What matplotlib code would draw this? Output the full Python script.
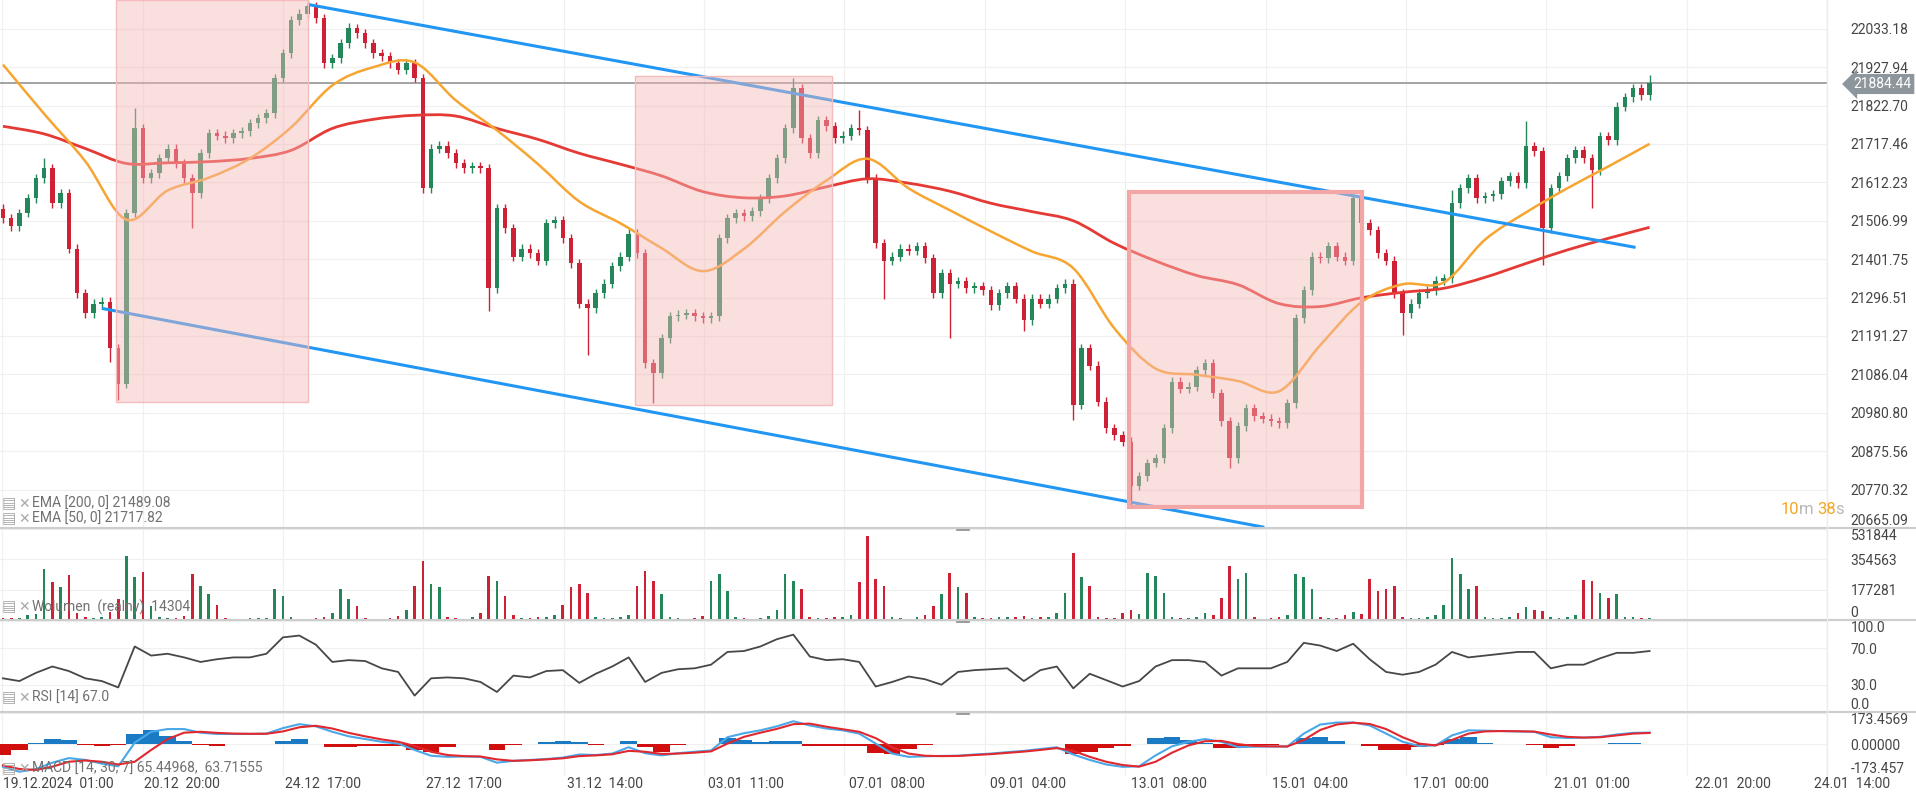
import matplotlib
matplotlib.use("Agg")
import matplotlib.pyplot as plt
from matplotlib.patches import Rectangle, PathPatch
from matplotlib.path import Path
from matplotlib.lines import Line2D
import numpy as np

W, H = 1916, 795
PLOT_W = 1827

# --- data (one candle per ~8 px of the original) ---
first_open = 21540.0
closes = [
    21514, 21492, 21528, 21569, 21623, 21651, 21555, 21582, 21431, 21308,
    21253, 21280, 21285, 21157, 21061, 21528, 21760, 21623, 21637, 21678,
    21705, 21664, 21623, 21582, 21692, 21747, 21740, 21733, 21747, 21752,
    21774, 21788, 21801, 21898, 21966, 22056, 22075, 22095, 22062, 21939,
    21952, 21993, 22035, 22021, 21993, 21966, 21958, 21939, 21920, 21939,
    21898, 21596, 21705, 21713, 21692, 21664, 21651, 21656, 21651, 21322,
    21541, 21486, 21409, 21431, 21418, 21398, 21500, 21508, 21459, 21390,
    21280, 21267, 21308, 21335, 21382, 21409, 21472, 21418, 21116, 21089,
    21185, 21245, 21250, 21253, 21245, 21240, 21245, 21459, 21514, 21528,
    21519, 21533, 21569, 21623, 21678, 21760, 21870, 21733, 21692, 21782,
    21766, 21733, 21740, 21760, 21755, 21623, 21445, 21398, 21409, 21431,
    21425, 21437, 21404, 21308, 21363, 21335, 21341, 21322, 21327, 21316,
    21275, 21308, 21327, 21294, 21234, 21294, 21280, 21294, 21322, 21335,
    21002, 21157, 21110, 21011, 20938, 20919, 20902, 20780, 20807, 20843,
    20856, 20938, 21066, 21047, 21052, 21097, 21116, 21034, 20957, 20856,
    20944, 20993, 20971, 20965, 20957, 20952, 21007, 21240, 21316, 21409,
    21404, 21437, 21409, 21398, 21569, 21500, 21481, 21418, 21398, 21308,
    21253, 21280, 21308, 21316, 21343, 21349, 21555, 21596, 21623, 21569,
    21574, 21580, 21615, 21629, 21610, 21711, 21697, 21486, 21596, 21629,
    21678, 21700, 21678, 21645, 21738, 21727, 21820, 21845, 21870, 21851,
    21884.44,
]
long_highs = {5: 21678, 16: 21815, 33: 21905, 37: 22111, 42: 22050, 96: 21897,
              104: 21810, 176: 21590, 185: 21780, 200: 21906}
long_lows = {13: 21120, 14: 21015, 23: 21486, 59: 21260, 71: 21140, 79: 21007,
             107: 21294, 115: 21185, 124: 21204, 130: 20960, 137: 20719,
             149: 20830, 170: 21193, 187: 21385, 193: 21541}

volume_k = [
    12, 9, 14, 30, 35, 300, 220, 190, 265, 40, 15, 12, 20, 45, 120, 372, 250, 280, 80, 20,
    12, 10, 25, 270, 200, 150, 90, 10, 8, 6, 9, 12, 10, 180, 140, 20, 8, 6, 10, 15,
    40, 180, 120, 80, 12, 8, 6, 10, 25, 60, 200, 343, 210, 190, 20, 10, 8, 15, 40, 260,
    230, 140, 30, 12, 10, 15, 20, 30, 90, 190, 210, 160, 20, 12, 10, 15, 30, 200, 284, 230,
    150, 20, 10, 8, 12, 25, 230, 266, 170, 20, 10, 8, 12, 25, 60, 266, 230, 180, 15, 10,
    12, 15, 20, 30, 220, 490, 240, 200, 20, 10, 8, 15, 30, 80, 150, 272, 195, 160, 15, 10,
    12, 15, 20, 18, 25, 12, 15, 20, 40, 160, 390, 250, 200, 20, 12, 10, 40, 60, 35, 272,
    260, 160, 20, 10, 12, 20, 40, 30, 130, 313, 240, 272, 15, 8, 10, 15, 30, 266, 250, 180,
    20, 12, 10, 30, 45, 35, 237, 170, 180, 200, 20, 10, 12, 20, 30, 90, 360, 270, 180, 200,
    20, 10, 12, 20, 40, 77, 60, 55, 15, 12, 20, 30, 236, 230, 160, 130, 150, 20, 15, 10,
    14.304,
]

# sampled every 5 candles
ema200 = [21766, 21745, 21705, 21664, 21666, 21669, 21678, 21700, 21760, 21785,
          21796, 21794, 21760, 21730, 21692, 21662, 21630, 21587, 21570, 21575,
          21600, 21622, 21610, 21588, 21555, 21532, 21507, 21445, 21397, 21357,
          21332, 21280, 21272, 21296, 21311, 21322, 21352, 21390, 21427, 21459,
          21489.08]
ema50 = [21935, 21800, 21670, 21510, 21590, 21625, 21678, 21763, 21878, 21928,
         21941, 21837, 21755, 21662, 21560, 21500, 21432, 21369, 21430, 21532,
         21617, 21677, 21596, 21536, 21478, 21423, 21377, 21212, 21102, 21085,
         21068, 21040, 21166, 21284, 21333, 21338, 21455, 21530, 21596, 21656,
         21717.82]

# sampled every 2 candles
rsi = [37, 34, 43, 50, 45, 37, 34, 27, 72, 62,
       64, 60, 55, 58, 60, 60, 64, 82, 84, 74,
       55, 57, 56, 48, 44, 18, 37, 38, 37, 33,
       22, 40, 38, 45, 46, 32, 42, 50, 60, 33,
       43, 47, 48, 52, 66, 67, 72, 80, 85, 61,
       57, 58, 55, 28, 33, 39, 36, 30, 44, 46,
       47, 48, 34, 46, 50, 26, 42, 35, 28, 34,
       50, 57, 57, 55, 40, 48, 48, 48, 55, 76,
       73, 67, 75, 58, 44, 41, 44, 52, 66, 60,
       62, 64, 66, 66, 48, 52, 52, 59, 65, 65,
       67.0]
macd_line = [-123, -150, -135, -100, -75, -85, -105, -120, 10, 70,
             85, 85, 65, 58, 58, 58, 60, 90, 112, 100,
             70, 45, 30, 15, 5, -30, -62, -68, -66, -68,
             -100, -90, -85, -80, -72, -55, -58, -50, -15, -48,
             -60, -48, -40, -33, 40, 62, 78, 100, 128, 105,
             88, 78, 60, 5, -50, -68, -65, -63, -62, -55,
             -50, -42, -35, -25, -15, -55, -85, -110, -123, -120,
             -60, -10, 15, 30, 15, -14, -12, -11, -11, 60,
             110, 121, 121, 105, 60, 15, -8, -5, 50, 78,
             76, 74, 72, 70, 40, 36, 38, 42, 55, 64,
             65.44968]
macd_signal = [-115, -135, -140, -122, -95, -88, -95, -110, -95, -30,
               30, 65, 70, 64, 60, 59, 59, 72, 95, 103,
               88, 64, 45, 28, 15, -8, -40, -58, -64, -66,
               -82, -90, -87, -82, -76, -64, -60, -54, -35, -40,
               -52, -50, -45, -38, 5, 42, 65, 86, 112, 115,
               98, 84, 70, 35, -15, -50, -62, -64, -63, -58,
               -53, -46, -39, -30, -20, -35, -68, -95, -113, -122,
               -95, -45, -5, 18, 20, 2, -8, -10, -11, 25,
               80, 110, 120, 113, 85, 40, 5, -5, 25, 60,
               72, 74, 73, 71, 55, 42, 38, 40, 50, 60,
               63.71555]
macd_hist = [-60, -30, 10, 28, 25, -5, -10, -5, 60, 80,
             45, 18, -5, -8, 2, 3, 2, 20, 28, 5,
             -15, -12, -10, -10, -8, -30, -42, -15, 3, 2,
             -33, -5, 5, 15, 22, 12, -5, 5, 22, -15,
             -42, -5, 5, 5, 36, 25, 15, 20, 22, -8,
             -8, -6, -10, -45, -50, -25, -3, 2, 3, 5,
             5, 5, 4, 5, 5, -50, -40, -20, -10, 2,
             35, 40, 25, 10, -20, -18, -3, -2, 2, 35,
             43, 20, 4, -10, -33, -30, -15, -2, 30, 40,
             8, 2, 2, -2, -18, -10, 2, 3, 8, 6,
             2]

price_ticks = ["22033.18", "21927.94", "21822.70", "21717.46", "21612.23",
               "21506.99", "21401.75", "21296.51", "21191.27", "21086.04",
               "20980.80", "20875.56", "20770.32", "20665.09"]
volume_ticks = ["0", "177281", "354563", "531844"]
rsi_ticks = ["0.0", "30.0", "70.0", "100.0"]
macd_ticks = ["-173.457", "0.00000", "173.4569"]
x_labels = ["19.12.2024  01:00", "20.12  20:00", "24.12  17:00", "27.12  17:00",
            "31.12  14:00", "03.01  11:00", "07.01  08:00", "09.01  04:00",
            "13.01  08:00", "15.01  04:00", "17.01  00:00", "21.01  01:00",
            "22.01  20:00", "24.01  14:00"]

# drawn annotations (candle index, price)
channel_upper = ([37.0, 198.3], [22100, 21434])
channel_lower = ([12.0, 153.2], [21267, 20667])
boxes = [(13.7, 37.1, 21010, 22111), (76.8, 100.7, 21001, 21903), (136.8, 165.1, 20722, 21585)]
last_price = 21884.44

GREEN = "#23875a"
RED = "#cf2135"
plt.rcParams["font.family"] = ["Roboto", "DejaVu Sans"]


def px_rect(left, top, width, height):
    return [left / W, 1 - (top + height) / H, width / W, height / H]


def ftext(xp, yp, s, **kw):
    return fig.text(xp / W, 1 - yp / H, s, **kw)


def smooth_line(a, xs, ys, **kw):
    # draw a polyline as a Catmull-Rom curve (cubic Bezier segments)
    p = np.column_stack([xs, ys]).astype(float)
    pts = np.vstack([p[0], p, p[-1]])
    verts = [p[0]]
    codes = [Path.MOVETO]
    for i in range(1, len(pts) - 2):
        p0, p1, p2, p3 = pts[i - 1], pts[i], pts[i + 1], pts[i + 2]
        verts += [p1 + (p2 - p0) / 6, p2 - (p3 - p1) / 6, p2]
        codes += [Path.CURVE4] * 3
    a.add_patch(PathPatch(Path(verts, codes), fill=False, **kw))


fig = plt.figure(figsize=(W / 100, H / 100), dpi=100)
fig.patch.set_facecolor("white")

ax = fig.add_axes(px_rect(0, 0, PLOT_W, 528))
ax_vol = fig.add_axes(px_rect(0, 529, PLOT_W, 91), sharex=ax)
ax_rsi = fig.add_axes(px_rect(0, 621, PLOT_W, 91), sharex=ax)
ax_macd = fig.add_axes(px_rect(0, 713, PLOT_W, 63), sharex=ax)
axes = [ax, ax_vol, ax_rsi, ax_macd]

n = len(closes)
x = np.arange(n)
c = np.array(closes, dtype=float)
o = np.concatenate([[first_open], c[:-1]])
hi = np.maximum(o, c) + 12
lo = np.minimum(o, c) - 12
for i, v in long_highs.items():
    hi[i] = max(hi[i], v)
for i, v in long_lows.items():
    lo[i] = min(lo[i], v)
colors = np.where(c >= o, GREEN, RED)

# price pane
ax.axhline(last_price, color="#9c9c9c", lw=1.3, zorder=2)
ax.vlines(x, lo, hi, colors=colors, lw=1.0, zorder=3)
ax.bar(x, np.maximum(np.abs(c - o), 3), bottom=np.minimum(o, c), width=0.55,
       color=colors, linewidth=0, zorder=4)
x5 = np.arange(0, n, 5)
smooth_line(ax, x5, ema200, edgecolor="#e53935", lw=2.0, zorder=5)
smooth_line(ax, x5, ema50, edgecolor="#f7a531", lw=1.8, zorder=5)
ax.plot(*channel_upper, color="#2196f3", lw=2.2, zorder=6, solid_capstyle="butt")
ax.plot(*channel_lower, color="#2196f3", lw=2.2, zorder=6, solid_capstyle="butt")
for k, (x0, x1, y0, y1) in enumerate(boxes):
    last = k == len(boxes) - 1
    ax.add_patch(Rectangle((x0, y0), x1 - x0, y1 - y0, facecolor="#f6b8b8", alpha=0.45,
                           edgecolor="none", zorder=7))
    ax.add_patch(Rectangle((x0, y0), x1 - x0, y1 - y0, facecolor="none",
                           edgecolor="#f3a6a6" if last else "#f4bcbc",
                           lw=3.0 if last else 1.0, zorder=7))
ax.set_ylim(20665.09, 22112)
ax.set_yticks([float(t) for t in price_ticks])
ax.set_yticklabels(price_ticks)

# volume pane
ax_vol.bar(x, np.array(volume_k) * 1000, width=0.32, color=colors, linewidth=0, zorder=3)
ax_vol.set_ylim(0, 531844)
ax_vol.set_yticks([float(t) for t in volume_ticks])
ax_vol.set_yticklabels(volume_ticks)

# RSI pane
x2 = np.arange(0, n, 2)
ax_rsi.plot(x2, rsi, color="#474747", lw=1.3, zorder=3)
ax_rsi.set_ylim(0, 100)
ax_rsi.set_yticks([float(t) for t in rsi_ticks])
ax_rsi.set_yticklabels(rsi_ticks)

# MACD pane
hist = np.array(macd_hist, dtype=float)
ax_macd.bar(x2, hist, width=2.0, color=np.where(hist >= 0, "#1a7ac4", "#d10f0f"),
            linewidth=0, zorder=3)
ax_macd.plot(x2, macd_line, color="#4aa8e8", lw=1.5, zorder=4)
ax_macd.plot(x2, macd_signal, color="#e0282e", lw=1.5, zorder=4)
ax_macd.set_ylim(-173.457, 173.4569)
ax_macd.set_yticks([float(t) for t in macd_ticks])
ax_macd.set_yticklabels(macd_ticks)

grid_x = np.arange(len(x_labels)) * 17.05 - 0.1
for a in axes:
    a.set_xlim(-0.36, 220.55)
    a.set_xticks(grid_x)
    a.set_facecolor("white")
    for s in a.spines.values():
        s.set_visible(False)
    a.grid(True, color="#f0f0f0", lw=0.9, zorder=0)
    a.set_axisbelow(True)
    a.yaxis.tick_right()
    a.tick_params(axis="x", length=0, labelbottom=False)
    a.tick_params(axis="y", length=0, pad=17, labelsize=10, labelcolor="#454545")

# edge labels squeezed inside their pane
ax.get_yticklabels()[-1].set_va("bottom")
for a in (ax_vol, ax_rsi, ax_macd):
    labs = a.get_yticklabels()
    labs[0].set_va("bottom")
    labs[-1].set_va("top")

# time labels, left aligned at the grid lines
for k, lab in enumerate(x_labels):
    xp = min(3 + k * 141.0, 1814)
    ftext(xp, 784, lab, fontsize=10, color="#454545", ha="left", va="center")

# pane separators and handles
for yp in (528, 620, 712):
    fig.add_artist(Line2D([0, 1], [1 - yp / H] * 2, transform=fig.transFigure,
                          color="#cdcdcd", lw=1.5))
    fig.add_artist(Line2D([957 / W, 969 / W], [1 - (yp + 2) / H] * 2,
                          transform=fig.transFigure, color="#8a8a8a", lw=1.2))
fig.add_artist(Line2D([PLOT_W / W] * 2, [1 - 776 / H, 1], transform=fig.transFigure,
                      color="#ececec", lw=1.0))

# current price tag
ftext(1853, 84, f"{last_price:.2f}", fontsize=10, color="white", va="center", ha="left",
      bbox=dict(boxstyle="larrow,pad=0.22", fc="#8c969c", ec="none"))

# countdown
ftext(1781, 509, "10", fontsize=12, color="#f5a623", va="center")
ftext(1799, 509, "m", fontsize=12, color="#b8b8b8", va="center")
ftext(1817, 509, "38", fontsize=12, color="#f5a623", va="center")
ftext(1835, 509, "s", fontsize=12, color="#b8b8b8", va="center")

# indicator legends
legends = [(504, "EMA [200, 0] 21489.08"), (519, "EMA [50, 0] 21717.82"),
           (607, "Wolumen  (realny)  14304"), (698, "RSI [14] 67.0"),
           (769, "MACD [14, 30, 7] 65.44968,  63.71555")]
for yp, s in legends:
    ftext(2, yp, "\u25a4", fontsize=11, color="#a8a8a8", va="center", family="DejaVu Sans")
    ftext(18, yp, "\u2715", fontsize=10, color="#a8a8a8", va="center", family="DejaVu Sans")
    ftext(32, yp, s, fontsize=10, color="#707070", va="center")

fig.savefig("out.png", dpi=100, facecolor="white")
